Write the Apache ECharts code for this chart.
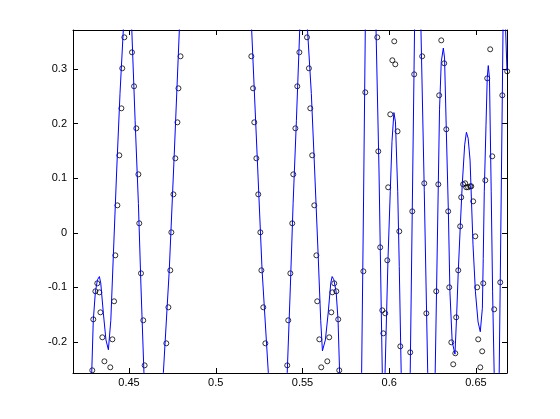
<!DOCTYPE html>
<html>
<head>
<meta charset="utf-8">
<script src="https://cdn.jsdelivr.net/npm/echarts@6.0.0/dist/echarts.min.js"></script>
<style>
html, body { margin: 0; padding: 0; background: #fff; }
#chart { width: 560px; height: 419px; }
</style>
</head>
<body>
<div id="chart"></div>
<script>
// axis limits
const xLim = [0.4177, 0.6679];
const yLim = [-0.2565, 0.3711];

// fitted curve (x, y) – peaks outside the axes are estimates
const curve = [
  [0.4177, -0.55], [0.4270, -0.40], [0.4285, -0.256], [0.4294, -0.160], [0.4306, -0.108],
  [0.4318, -0.086], [0.4329, -0.080], [0.4337, -0.092], [0.4352, -0.147], [0.4367, -0.196],
  [0.4381, -0.214], [0.4385, -0.216], [0.4395, -0.160], [0.4410, -0.038], [0.4429, 0.115],
  [0.4448, 0.255], [0.4467, 0.371], [0.4491, 0.43], [0.4516, 0.371], [0.4535, 0.206],
  [0.4554, 0.054], [0.4569, -0.099], [0.4586, -0.256], [0.4642, -0.50], [0.4698, -0.256],
  [0.4732, -0.068], [0.4761, 0.146], [0.4790, 0.371], [0.5000, 1.2], [0.5207, 0.371],
  [0.5238, 0.146], [0.5267, -0.068], [0.5303, -0.256], [0.5357, -0.50], [0.5412, -0.256],
  [0.5430, -0.099], [0.5446, 0.054], [0.5465, 0.206], [0.5484, 0.371], [0.5508, 0.43],
  [0.5529, 0.371], [0.5551, 0.255], [0.5570, 0.115], [0.5590, -0.038], [0.5605, -0.160],
  [0.5615, -0.216], [0.5632, -0.196], [0.5648, -0.147], [0.5663, -0.092], [0.5671, -0.080],
  [0.5681, -0.086], [0.5694, -0.108], [0.5705, -0.160], [0.5714, -0.256], [0.5777, -0.75],
  [0.5841, -0.256], [0.5852, 0.060], [0.5862, 0.371], [0.5893, 0.80], [0.5924, 0.371],
  [0.5941, 0.115], [0.5960, -0.256], [0.5968, -0.32], [0.5976, -0.256], [0.5993, -0.047],
  [0.6006, 0.075], [0.6016, 0.167], [0.6027, 0.220], [0.6036, 0.203], [0.6049, 0.075],
  [0.6058, -0.062], [0.6069, -0.256], [0.6095, -0.45], [0.6121, -0.256], [0.6146, 0.371],
  [0.6165, 0.52], [0.6183, 0.371], [0.6202, 0.078], [0.6222, -0.256], [0.6243, -0.42],
  [0.6265, -0.256], [0.6272, -0.123], [0.6283, 0.089], [0.6290, 0.225], [0.6300, 0.313],
  [0.6312, 0.338], [0.6319, 0.320], [0.6329, 0.189], [0.6341, 0.039], [0.6350, -0.108],
  [0.6363, -0.199], [0.6379, -0.222], [0.6388, -0.157], [0.6398, -0.071], [0.6410, 0.014],
  [0.6421, 0.088], [0.6435, 0.161], [0.6445, 0.184], [0.6455, 0.173], [0.6466, 0.133],
  [0.6474, 0.060], [0.6483, -0.022], [0.6497, -0.108], [0.6512, -0.163], [0.6525, -0.181],
  [0.6537, -0.138], [0.6542, -0.047], [0.6548, 0.075], [0.6558, 0.197], [0.6565, 0.283],
  [0.6571, 0.306], [0.6578, 0.283], [0.6588, 0.075], [0.6596, -0.108], [0.6605, -0.256],
  [0.6620, -0.40], [0.6634, -0.256], [0.6640, -0.090], [0.6652, 0.252], [0.6656, 0.371],
  [0.6663, 0.43], [0.6671, 0.371], [0.6679, 0.296]
];

// sample points (circles)
const samples = [
  [0.4288, -0.2516], [0.4294, -0.1583], [0.4306, -0.1070], [0.4317, -0.0924], [0.4329, -0.1089],
  [0.4335, -0.1455], [0.4346, -0.1912], [0.4358, -0.2351], [0.4392, -0.2461], [0.4404, -0.1949],
  [0.4414, -0.1253], [0.4421, -0.0412], [0.4433, 0.0503], [0.4444, 0.1418], [0.4456, 0.2278],
  [0.4461, 0.3010], [0.4473, 0.3577], [0.4517, 0.3303], [0.4529, 0.2681], [0.4542, 0.1912],
  [0.4554, 0.1070], [0.4559, 0.0174], [0.4569, -0.0741], [0.4582, -0.1601], [0.4590, -0.2425],
  [0.4715, -0.2022], [0.4727, -0.1363], [0.4738, -0.0686], [0.4744, 0.0009], [0.4756, 0.0704],
  [0.4767, 0.1363], [0.4779, 0.2022], [0.4785, 0.2644], [0.4797, 0.3230],
  [0.5205, 0.3230], [0.5215, 0.2644], [0.5222, 0.2022], [0.5234, 0.1363], [0.5245, 0.0704],
  [0.5257, 0.0009], [0.5263, -0.0686], [0.5274, -0.1363], [0.5286, -0.2022],
  [0.5412, -0.2425], [0.5418, -0.1601], [0.5430, -0.0741], [0.5441, 0.0174], [0.5447, 0.1070],
  [0.5459, 0.1912], [0.5470, 0.2681], [0.5482, 0.3303], [0.5526, 0.3577], [0.5537, 0.3010],
  [0.5545, 0.2278], [0.5556, 0.1418], [0.5568, 0.0503], [0.5580, -0.0412], [0.5585, -0.1253],
  [0.5597, -0.1949], [0.5608, -0.2461], [0.5643, -0.2351], [0.5654, -0.1912], [0.5666, -0.1455],
  [0.5672, -0.1089], [0.5683, -0.0924], [0.5695, -0.1070], [0.5706, -0.1583], [0.5712, -0.2516],
  [0.5851, -0.0704], [0.5862, 0.2571], [0.5931, 0.3577], [0.5937, 0.1491], [0.5948, -0.0265],
  [0.5960, -0.1418], [0.5966, -0.1839], [0.5977, -0.1473], [0.5989, -0.0503], [0.5994, 0.0833],
  [0.6006, 0.2168], [0.6018, 0.3157], [0.6029, 0.3504], [0.6035, 0.3083], [0.6048, 0.1857],
  [0.6058, 0.0027], [0.6064, -0.2077], [0.6121, -0.2187], [0.6133, 0.0393], [0.6144, 0.2900],
  [0.6190, 0.3230], [0.6202, 0.0906], [0.6214, -0.1473], [0.6271, -0.1070], [0.6283, 0.0887],
  [0.6288, 0.2516], [0.6300, 0.3522], [0.6317, 0.3102], [0.6329, 0.1894], [0.6340, 0.0393],
  [0.6346, -0.0997], [0.6358, -0.2004], [0.6369, -0.2406], [0.6381, -0.2205], [0.6386, -0.1546],
  [0.6398, -0.0686], [0.6409, 0.0119], [0.6415, 0.0650], [0.6426, 0.0887], [0.6438, 0.0906],
  [0.6444, 0.0833], [0.6455, 0.0833], [0.6467, 0.0851], [0.6473, 0.0851], [0.6484, 0.0576],
  [0.6496, -0.0064], [0.6507, -0.0997], [0.6513, -0.1949], [0.6525, -0.2461], [0.6536, -0.2168],
  [0.6542, -0.0924], [0.6554, 0.0961], [0.6565, 0.2827], [0.6582, 0.3358], [0.6594, 0.1400],
  [0.6605, -0.1400], [0.6640, -0.0906], [0.6652, 0.2516], [0.6680, 0.2955]
];

const chart = echarts.init(document.getElementById('chart'), null, { renderer: 'canvas' });

function axis(position, min, max, labels, margin) {
  return {
    type: 'value',
    position: position,
    min: min,
    max: max,
    splitNumber: 5,
    axisLine: { show: true, onZero: false, lineStyle: { color: '#000', width: 1 } },
    axisTick: { show: true, inside: true, length: 5, lineStyle: { color: '#000', width: 1 } },
    splitLine: { show: false },
    axisLabel: {
      show: labels,
      color: '#000',
      fontFamily: 'Liberation Sans',
      fontSize: 11,
      margin: margin,
      showMinLabel: false,
      showMaxLabel: false
    }
  };
}

const option = {
  animation: false,
  backgroundColor: '#fff',
  grid: { left: 73, right: 53, top: 30, bottom: 46 },
  xAxis: [
    axis('bottom', xLim[0], xLim[1], true, 4),
    axis('top', xLim[0], xLim[1], false, 4)
  ],
  yAxis: [
    Object.assign(axis('left', yLim[0], yLim[1], true, 6), { splitNumber: 6 }),
    Object.assign(axis('right', yLim[0], yLim[1], false, 6), { splitNumber: 6 })
  ],
  series: [
    {
      type: 'line',
      data: curve,
      showSymbol: false,
      clip: true,
      silent: true,
      lineStyle: { color: '#0000ff', width: 1 }
    },
    {
      type: 'scatter',
      data: samples,
      symbol: 'circle',
      symbolSize: 5,
      clip: false,
      silent: true,
      itemStyle: { color: 'rgba(0,0,0,0)', borderColor: '#000', borderWidth: 1 }
    }
  ]
};

chart.setOption(option);
</script>
</body>
</html>
